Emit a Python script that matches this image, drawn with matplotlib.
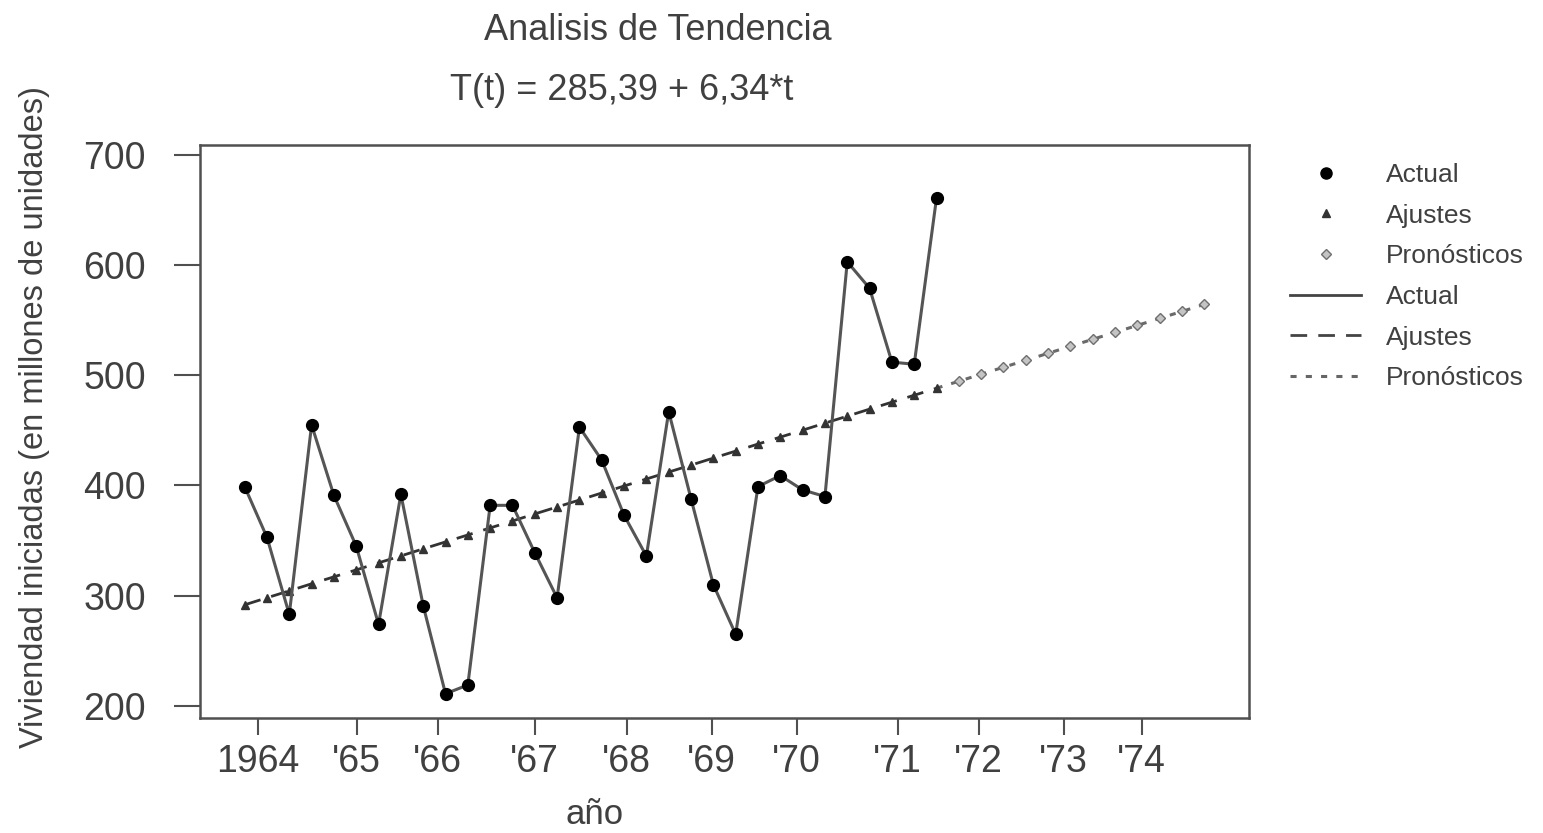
import numpy as np
import matplotlib
matplotlib.use('Agg')
import matplotlib.pyplot as plt
from matplotlib.lines import Line2D

plt.rcParams['font.family'] = ['Liberation Sans', 'DejaVu Sans']

# viviendas iniciadas por trimestre, 1964 Q1 - 1971 Q4
actual = [399, 353, 283, 455, 391, 345, 274, 392,
          291, 211, 219, 382, 382, 339, 298, 453,
          423, 373, 336, 467, 388, 310, 265, 399,
          409, 396, 390, 603, 579, 512, 510, 661]

# T(t) = 285,39 + 6,34*t
ajustes = [291.7, 298.1, 304.4, 310.8, 317.1, 323.4, 329.8, 336.1,
           342.5, 348.8, 355.1, 361.5, 367.8, 374.2, 380.5, 386.8,
           393.2, 399.5, 405.9, 412.2, 418.5, 424.9, 431.2, 437.6,
           443.9, 450.2, 456.6, 462.9, 469.3, 475.6, 481.9, 488.3]
pronosticos = [494.6, 501.0, 507.3, 513.6, 520.0, 526.3,
               532.7, 539.0, 545.3, 551.7, 558.0, 564.4]

year_labels = ['1964', "'65", "'66", "'67", "'68", "'69", "'70", "'71", "'72", "'73", "'74"]
year_ticks = [1.58, 6.02, 9.65, 13.99, 18.11, 21.92, 25.73, 30.26, 33.89, 37.69, 41.19]

t_act = np.arange(1, len(actual) + 1)
t_fc = np.arange(len(actual) + 1, len(actual) + len(pronosticos) + 1)

txt = '#404040'
fig = plt.figure(figsize=(15.43, 8.33), dpi=100)
ax = fig.add_axes([200/1543, 115/833, 1049/1543, 573/833])

ax.plot(t_act, ajustes, color='#333333', lw=2, dashes=(6, 4), zorder=2)
ax.plot(t_act, ajustes, ls='none', marker='^', ms=5.5, color='#333333', zorder=3)
ax.plot(np.r_[t_act[-1], t_fc], np.r_[ajustes[-1], pronosticos], color='#6a6a6a', lw=2.2, dashes=(2, 3), zorder=2)
ax.plot(t_fc, pronosticos, ls='none', marker='D', ms=5.5, mfc='#c4c4c4', mec='#6f6f6f', zorder=3)
ax.plot(t_act, actual, color='#555555', lw=2.2, zorder=4)
ax.plot(t_act, actual, ls='none', marker='o', ms=8.5, color='black', zorder=5)

ax.set_xlim(-1.0, 46.0)
ax.set_ylim(189, 709)
ax.set_yticks([200, 300, 400, 500, 600, 700])
ax.set_xticks(year_ticks)
ax.set_xticklabels(year_labels)
for s in ax.spines.values():
    s.set_color('#505050')
    s.set_linewidth(1.8)
ax.tick_params(axis='y', length=19, width=1.5, pad=20, labelsize=27, colors='#505050', labelcolor=txt)
ax.tick_params(axis='x', length=12, width=1.5, pad=7, labelsize=27, colors='#505050', labelcolor=txt)

fig.text(658/1543, 1 - 30/833, 'Analisis de Tendencia', ha='center', va='center', fontsize=26, color=txt)
fig.text(622/1543, 1 - 90/833, 'T(t) = 285,39 + 6,34*t', ha='center', va='center', fontsize=26, color=txt)
fig.text(595/1543, 1 - 815/833, 'año', ha='center', va='center', fontsize=25, color=txt)
fig.text(35/1543, 1 - 417/833, 'Viviendad iniciadas (en millones de unidades)', rotation=90,
         ha='center', va='center', fontsize=23.5, color=txt)

handles = [Line2D([], [], ls='none', marker='o', ms=8, color='black'),
           Line2D([], [], ls='none', marker='^', ms=5.5, color='#333333'),
           Line2D([], [], ls='none', marker='D', ms=5.5, mfc='#c4c4c4', mec='#6f6f6f'),
           Line2D([], [], color='#444444', lw=2),
           Line2D([], [], color='#444444', lw=2, dashes=(6, 4)),
           Line2D([], [], color='#666666', lw=2.2, dashes=(2, 3))]
labels = ['Actual', 'Ajustes', 'Pronósticos', 'Actual', 'Ajustes', 'Pronósticos']
leg = fig.legend(handles, labels, loc='upper left', bbox_to_anchor=(1290/1543, 1 - 163/833),
                 frameon=False, fontsize=19, handlelength=2.7, handletextpad=0.95,
                 labelspacing=0.63, borderpad=0, borderaxespad=0)
for t in leg.get_texts():
    t.set_color(txt)

fig.savefig('out.png', dpi=100)
